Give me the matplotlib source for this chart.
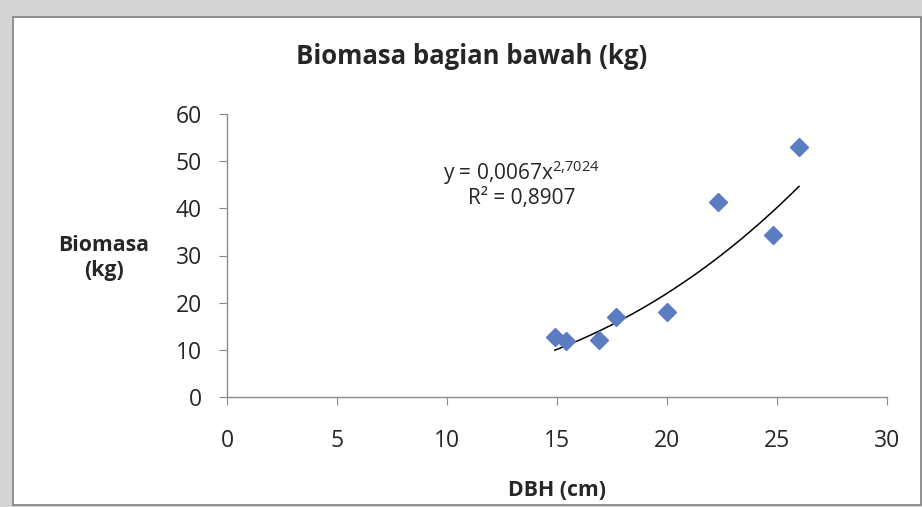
import matplotlib.pyplot as plt
import numpy as np
from matplotlib.patches import Rectangle

# --- Data ---
dbh_cm = [14.9, 15.4, 16.9, 17.7, 20.0, 22.3, 24.8, 26.0]
biomass_kg = [12.7, 11.8, 12.0, 17.0, 18.1, 41.3, 34.3, 53.0]

# power trendline shown on the chart: y = a * x^b
trend_a = 0.0067
trend_b = 2.7024
r_squared = "0,8907"

x_ticks = [0, 5, 10, 15, 20, 25, 30]
y_ticks = [0, 10, 20, 30, 40, 50, 60]

TEXT_COLOR = "#262626"
AXIS_COLOR = "#8c8c8c"
MARKER_COLOR = "#5b7cc2"

plt.rcParams["font.family"] = ["Open Sans", "DejaVu Sans"]
plt.rcParams["mathtext.fontset"] = "custom"
plt.rcParams["mathtext.rm"] = "Open Sans"
plt.rcParams["mathtext.it"] = "Open Sans"
plt.rcParams["mathtext.bf"] = "Open Sans:bold"

W, H = 922, 507
fig = plt.figure(figsize=(W / 100, H / 100), dpi=100)
fig.patch.set_facecolor("#d4d4d4")

# white chart area with thin frame
frame = Rectangle((13 / W, 1 - 505 / H), (921 - 13) / W, (505 - 17) / H,
                  transform=fig.transFigure, facecolor="white",
                  edgecolor="#7f7f7f", linewidth=1.2, zorder=-1)
fig.patches.append(frame)

ax = fig.add_axes([227 / W, 1 - 397 / H, (887 - 227) / W, (397 - 114) / H])
ax.set_facecolor("none")
ax.set_zorder(1)

ax.plot(dbh_cm, biomass_kg, linestyle="none", marker="D", markersize=9.5,
        markerfacecolor=MARKER_COLOR, markeredgecolor=MARKER_COLOR, zorder=3)

xs = np.linspace(min(dbh_cm), max(dbh_cm), 200)
ax.plot(xs, trend_a * xs ** trend_b, color="black", linewidth=1.1, zorder=2)

ax.text(13.4, 47.6, "y = 0,0067x$^{2{,}7024}$", ha="center", va="center",
        fontsize=15, color=TEXT_COLOR)
ax.text(13.4, 42.1, f"R² = {r_squared}", ha="center", va="center",
        fontsize=15, color=TEXT_COLOR)

ax.set_xlim(0, 30)
ax.set_ylim(0, 60)
ax.set_xticks(x_ticks)
ax.set_yticks(y_ticks)

for side in ["top", "right"]:
    ax.spines[side].set_visible(False)
for side in ["left", "bottom"]:
    ax.spines[side].set_color(AXIS_COLOR)
    ax.spines[side].set_linewidth(1.0)

ax.tick_params(axis="x", direction="out", length=6, color=AXIS_COLOR,
               pad=17, labelsize=16.5, labelcolor=TEXT_COLOR)
ax.tick_params(axis="y", direction="out", length=6, color=AXIS_COLOR,
               pad=12, labelsize=16.5, labelcolor=TEXT_COLOR)

fig.text(472 / W, 1 - 57 / H, "Biomasa bagian bawah (kg)", ha="center",
         va="center", fontsize=18.5, fontweight="bold", color=TEXT_COLOR)
fig.text(104 / W, 1 - 258 / H, "Biomasa\n(kg)", ha="center", va="center",
         fontsize=15.3, fontweight="bold", color=TEXT_COLOR, linespacing=1.3)
fig.text(557 / W, 1 - 490 / H, "DBH (cm)", ha="center", va="center",
         fontsize=15.3, fontweight="bold", color=TEXT_COLOR)

fig.savefig("out.png", dpi=100, facecolor=fig.get_facecolor())
